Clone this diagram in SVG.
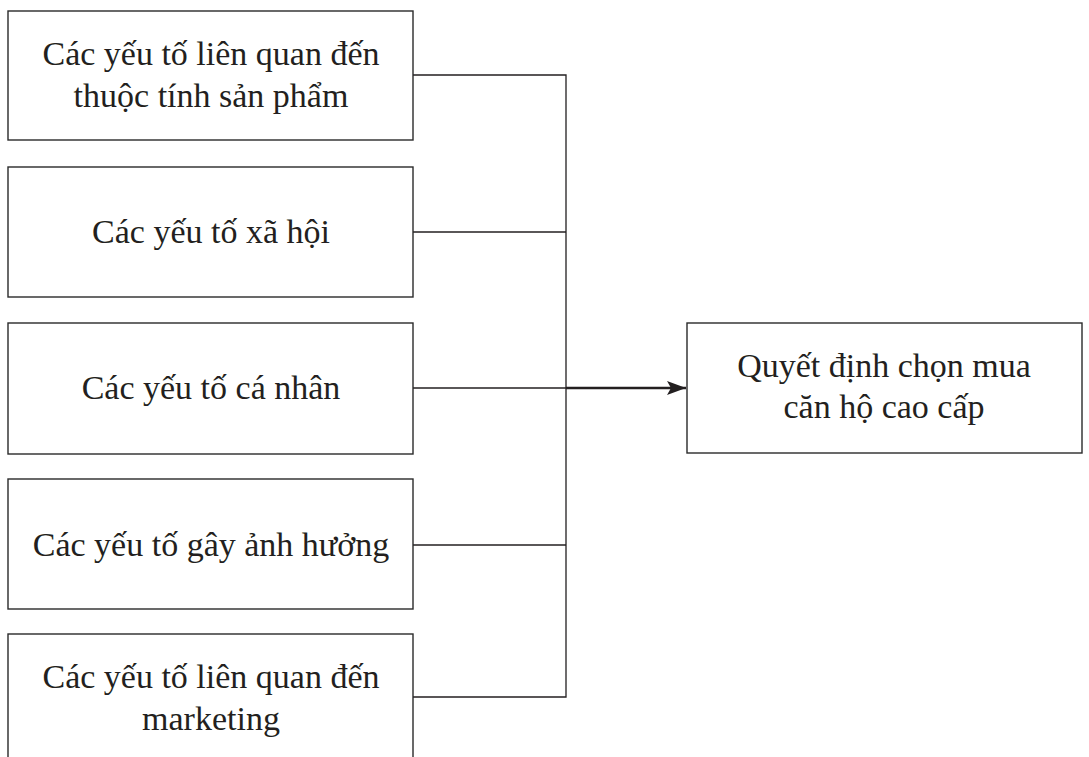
<svg xmlns="http://www.w3.org/2000/svg" width="1089" height="757" viewBox="0 0 1089 757">
<style>
.box{fill:#fff;stroke:#2a2a2a;stroke-width:1.4}
.t{font-family:"Liberation Serif","Times New Roman",serif;font-size:34px;fill:#231f20;text-anchor:middle}
.c{fill:none;stroke:#231f20;stroke-width:1.3}
</style>
<defs>
<marker id="ah" markerWidth="19" markerHeight="14" refX="19" refY="7" orient="auto" markerUnits="userSpaceOnUse">
<path d="M0,0 L19,7 L0,14 L4,7 Z" fill="#231f20"/>
</marker>
</defs>
<rect width="1089" height="757" fill="#fff"/>
<g id="connectors">
<path class="c" d="M413,75 H566 V697 H413"/>
<path class="c" d="M413,232 H566"/>
<path class="c" d="M413,388 H566"/>
<path class="c" d="M413,545 H566"/>
<line x1="566" y1="388" x2="686" y2="388" stroke="#231f20" stroke-width="2.4" marker-end="url(#ah)"/>
</g>
<g id="n1"><rect class="box" x="8" y="11" width="405" height="129"/>
<text class="t" x="211" y="65">Các yếu tố liên quan đến</text>
<text class="t" x="211" y="107">thuộc tính sản phẩm</text></g>
<g id="n2"><rect class="box" x="8" y="167" width="405" height="130"/>
<text class="t" x="211" y="243">Các yếu tố xã hội</text></g>
<g id="n3"><rect class="box" x="8" y="323" width="405" height="131"/>
<text class="t" x="211" y="399">Các yếu tố cá nhân</text></g>
<g id="n4"><rect class="box" x="8" y="479" width="405" height="130"/>
<text class="t" x="211" y="556">Các yếu tố gây ảnh hưởng</text></g>
<g id="n5"><rect class="box" x="8" y="634" width="405" height="130"/>
<text class="t" x="211" y="688">Các yếu tố liên quan đến</text>
<text class="t" x="211" y="730">marketing</text></g>
<g id="n6"><rect class="box" x="687" y="323" width="395" height="130"/>
<text class="t" x="884" y="377">Quyết định chọn mua</text>
<text class="t" x="884" y="418">căn hộ cao cấp</text></g>
</svg>
